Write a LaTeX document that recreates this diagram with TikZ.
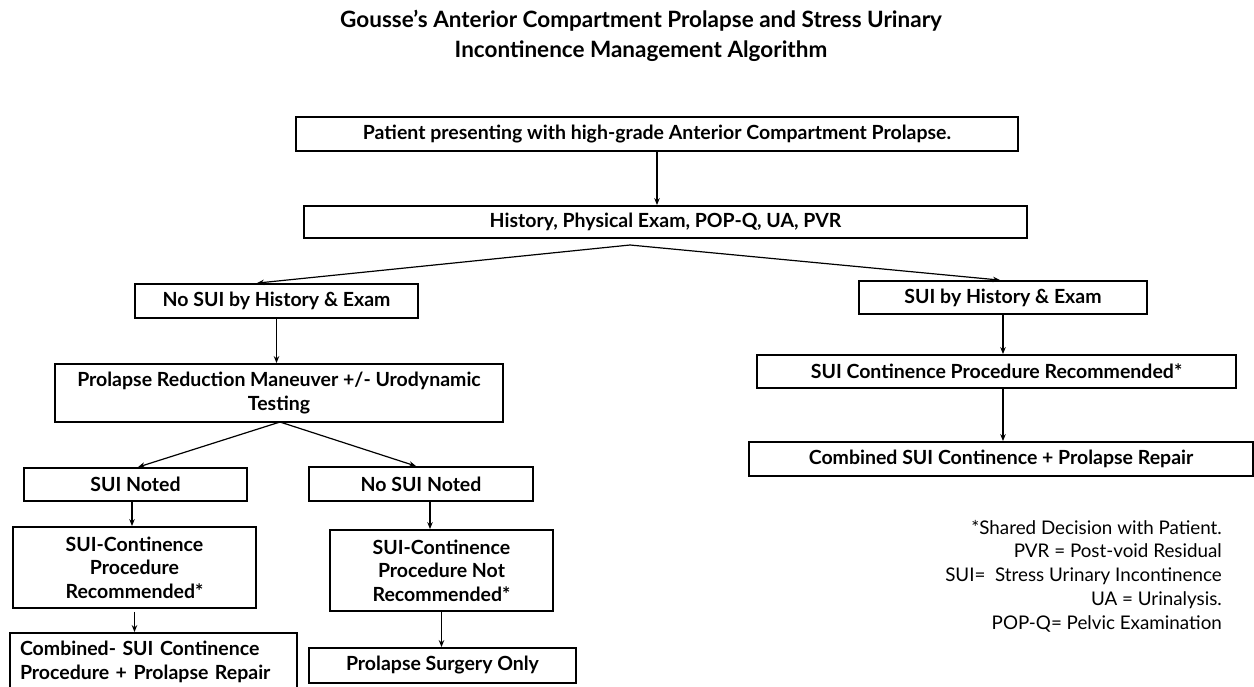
\documentclass[tikz,border=0pt]{standalone}
\usepackage{fontspec}
\setmainfont{Lato}
\usetikzlibrary{arrows.meta}
\begin{document}
\begin{tikzpicture}[x=1pt,y=-1pt,
  box/.style={draw=black,line width=1.8pt,inner sep=0pt,align=center,
    font=\bfseries\fontsize{19.5}{23.5}\selectfont},
  arr/.style={line width=1.2pt,-{Stealth[length=7pt,width=5.5pt]}},
  legend/.style={inner sep=0pt,align=right,font=\fontsize{18.8}{23.7}\selectfont},
  ttl/.style={inner sep=0pt,align=center,font=\bfseries\fontsize{22.5}{30}\selectfont}]
\useasboundingbox[fill=white] (0,0) rectangle (1254,686);
\node[ttl,anchor=north] (title) at (641,10) {Gousse's Anterior Compartment Prolapse and Stress Urinary\\Incontinence Management Algorithm};
\node[box,minimum width=722pt,minimum height=34pt] (b1) at (657,134) {Patient presenting with high-grade Anterior Compartment Prolapse.};
\node[box,minimum width=723pt,minimum height=32pt] (b2) at (665.5,222) {History, Physical Exam, POP-Q, UA, PVR};
\node[box,minimum width=283pt,minimum height=34pt] (nosuih) at (276.5,301) {No SUI by History \& Exam};
\node[box,minimum width=288pt,minimum height=33pt] (suih) at (1003,297.5) {SUI by History \& Exam};
\node[box,minimum width=448pt,minimum height=58pt] (prm) at (279,393) {Prolapse Reduction Maneuver +/- Urodynamic\\Testing};
\node[box,minimum width=479pt,minimum height=33pt] (suirec) at (996.5,371.5) {SUI Continence Procedure Recommended*};
\node[box,minimum width=504pt,minimum height=34pt] (comb1) at (1001,459) {Combined SUI Continence + Prolapse Repair};
\node[box,minimum width=223pt,minimum height=33pt] (suin) at (135.5,484.5) {SUI Noted};
\node[box,minimum width=224pt,minimum height=34pt] (nosuin) at (421,484) {No SUI Noted};
\node[box,minimum width=243pt,minimum height=81pt] (rec) at (134.5,567.5) {SUI-Continence\\Procedure\\Recommended*};
\node[box,minimum width=223pt,minimum height=81pt] (notrec) at (441.5,570.5) {SUI-Continence\\Procedure Not\\Recommended*};
\node[box,text width=267pt,inner xsep=10pt,align=left,minimum height=58pt] (comb2) at (153.5,662) {Combined- SUI Continence\\Procedure + Prolapse Repair};
\node[box,minimum width=267pt,minimum height=35pt] (pso) at (442.5,665.5) {Prolapse Surgery Only};
\node[legend,anchor=east] (leg) at (1222,576) {*Shared Decision with Patient.\\PVR = Post-void Residual\\SUI=\ \ Stress Urinary Incontinence\\UA = Urinalysis.\\POP-Q= Pelvic Examination};
\coordinate (s1) at (630,245);
\coordinate (s2) at (280,422);
\draw[arr] (b1.south) -- (b1.south |- b2.north);
\draw[arr] (s1) -- ([xshift=-19.5pt]nosuih.north);
\draw[arr] (s1) -- ([xshift=-3pt]suih.north);
\draw[arr] (nosuih.south) -- (nosuih.south |- prm.north);
\draw[arr] (suih.south) -- (suih.south |- suirec.north);
\draw[arr] (suih.south |- suirec.south) -- (suih.south |- comb1.north);
\draw[arr] (s2) -- ([xshift=2.5pt]suin.north);
\draw[arr] (s2) -- ([xshift=-5pt]nosuin.north);
\draw[arr] ([xshift=-3.5pt]suin.south) -- ([xshift=-3.5pt]suin.south |- rec.north);
\draw[arr] ([xshift=9pt]nosuin.south) -- ([xshift=9pt]nosuin.south |- notrec.north);
\draw[arr,shorten <=3pt] (rec.south) -- (rec.south |- comb2.north);
\draw[arr] (notrec.south) -- (notrec.south |- pso.north);
\end{tikzpicture}
\end{document}
